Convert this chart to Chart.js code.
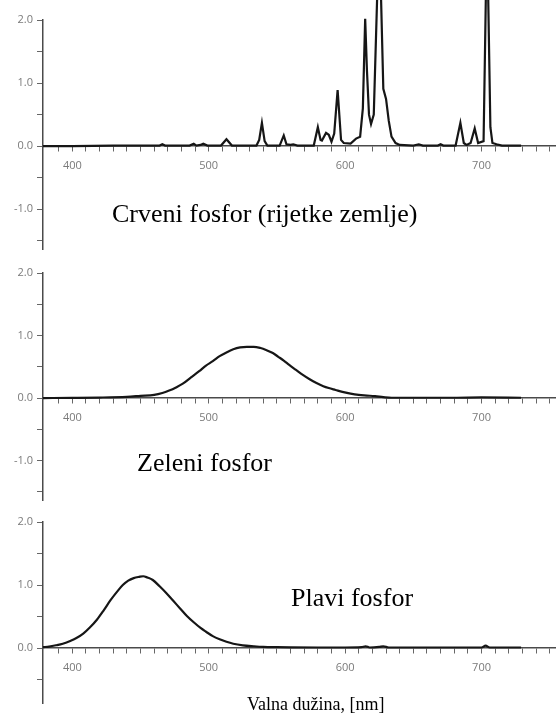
<!DOCTYPE html>
<html>
<head>
<meta charset="utf-8">
<script src="https://cdn.jsdelivr.net/npm/chart.js@4"></script>
<style>
  html, body { margin:0; padding:0; background:#fff; }
  #wrap { position:relative; width:556px; height:722px; overflow:hidden; }
  #wrap canvas { position:absolute; left:0; }
  .lbl { position:absolute; font-family:"Liberation Serif","Times New Roman",serif; font-size:26px; line-height:26px; color:#000; white-space:nowrap; }
</style>
</head>
<body>
<div id="wrap">
  <canvas id="cRed" style="top:0px;width:556px;height:252px" width="556" height="252"></canvas>
  <canvas id="cGreen" style="top:252px;width:556px;height:250px" width="556" height="250"></canvas>
  <canvas id="cBlue" style="top:502px;width:556px;height:220px" width="556" height="220"></canvas>
  <div class="lbl" style="left:112px;top:201px">Crveni fosfor (rijetke zemlje)</div>
  <div class="lbl" style="left:137px;top:450px">Zeleni fosfor</div>
  <div class="lbl" style="left:291px;top:585px">Plavi fosfor</div>
  <div class="lbl" style="left:247px;top:695px;font-size:18px;line-height:18px">Valna dužina, [nm]</div>
</div>
<script>
// osi
const X_MIN = 378.5, X_MAX = 754.6;
const X_MAJOR = [400, 500, 600, 700];
const X_TICKS = [390,400,410,420,430,440,450,460,470,480,490,500,510,520,530,540,550,560,570,
  580,590,600,610,620,630,640,650,660,670,680,690,700,710,720,730,740,750];
const Y_TICKS = [-1.5, -1.0, -0.5, 0.0, 0.5, 1.0, 1.5, 2.0];
const Y_LABELS = [-1.0, 0.0, 1.0, 2.0];

// crveni fosfor (rijetke zemlje)
const RED_NM  = [378.5, 400, 430, 460, 464, 466, 468, 486, 489, 491, 494, 496, 499, 509, 513, 517,
  535, 537, 539, 541, 543, 552, 555, 557, 560, 562, 565, 577, 580, 582, 583, 586, 588, 590, 592,
  594.5, 597, 599, 604, 608, 611, 613, 614.7, 616, 617.5, 619, 621, 625, 628, 630, 632, 634, 637,
  640, 650, 654, 657, 668, 670, 672, 681, 684.5, 687, 689, 692, 695, 697.5, 701.5, 704, 706.5, 708,
  711, 715, 729];
const RED_VAL = [0.0, 0.0, 0.01, 0.01, 0.01, 0.03, 0.01, 0.01, 0.04, 0.01, 0.02, 0.04, 0.01, 0.01, 0.11, 0.01,
  0.01, 0.1, 0.37, 0.08, 0.01, 0.01, 0.17, 0.03, 0.02, 0.03, 0.01, 0.01, 0.3, 0.1, 0.09, 0.21, 0.18, 0.07, 0.2,
  0.89, 0.1, 0.05, 0.04, 0.12, 0.15, 0.6, 2.02, 1.2, 0.5, 0.35, 0.5, 3.5, 0.91, 0.75, 0.4, 0.15, 0.05,
  0.02, 0.01, 0.03, 0.01, 0.01, 0.03, 0.01, 0.01, 0.37, 0.05, 0.02, 0.05, 0.28, 0.05, 0.08, 3.5, 0.3, 0.05,
  0.03, 0.01, 0.01];

// zeleni fosfor
const GREEN_NM  = [378.5, 400, 420, 440, 450, 460, 466, 471, 476, 481, 487, 493, 498, 503, 508, 513, 518,
  523, 528, 533, 538, 542, 547, 551, 555, 559, 564, 569, 574, 579, 584, 588, 593, 598, 604, 610, 616,
  622, 628, 634, 650, 680, 700, 729];
const GREEN_VAL = [0.0, 0.003, 0.008, 0.02, 0.035, 0.05, 0.08, 0.12, 0.17, 0.23, 0.33, 0.43, 0.52, 0.59,
  0.67, 0.73, 0.78, 0.81, 0.82, 0.82, 0.8, 0.77, 0.72, 0.66, 0.6, 0.53, 0.45, 0.37, 0.3, 0.24, 0.19, 0.16,
  0.13, 0.1, 0.07, 0.05, 0.04, 0.03, 0.015, 0.005, 0.005, 0.005, 0.01, 0.005];

// plavi fosfor
const BLUE_NM  = [378.5, 383, 388, 393, 398, 403, 408, 413, 418, 423, 428, 433, 437, 441, 445, 449, 452,
  455, 459, 464, 469, 474, 479, 484, 489, 494, 498, 503, 508, 513, 518, 525, 533, 540, 550, 560, 580,
  600, 612, 615, 618, 625, 628, 632, 650, 680, 700, 703, 706, 729];
const BLUE_VAL = [0.015, 0.025, 0.045, 0.07, 0.11, 0.16, 0.23, 0.33, 0.45, 0.6, 0.76, 0.9, 1.0, 1.07,
  1.11, 1.13, 1.14, 1.12, 1.08, 0.98, 0.87, 0.75, 0.63, 0.51, 0.41, 0.32, 0.26, 0.19, 0.14, 0.1, 0.07,
  0.045, 0.03, 0.02, 0.015, 0.012, 0.01, 0.01, 0.015, 0.03, 0.01, 0.02, 0.03, 0.01, 0.01, 0.01, 0.01,
  0.04, 0.01, 0.01];

const tickFont = { family:'"Open Sans", "DejaVu Sans", sans-serif', size:11 };
const tickColor = '#7a7a7a';
const axisColor = '#4a4a4a';

function makePanel(id, nm, val, yMin, pad, smooth) {
  new Chart(document.getElementById(id), {
    type: 'line',
    data: {
      datasets: [{
        data: nm.map((x, i) => ({ x, y: val[i] })),
        borderColor:'#161616', borderWidth:2.2, pointRadius:0, fill:false,
        tension: smooth ? 0.4 : 0, cubicInterpolationMode: smooth ? 'monotone' : 'default',
        clip: false
      }]
    },
    options: {
      responsive:false, animation:false,
      layout: { padding: { top: pad[0], bottom: pad[1], left:0, right:0 } },
      plugins: { legend:{display:false}, tooltip:{enabled:false} },
      scales: {
        x: {
          type:'linear', min:X_MIN, max:X_MAX, position:{ y:0 },
          afterBuildTicks: s => { s.ticks = X_TICKS.map(v => ({ value:v })); },
          afterFit: s => { s.paddingLeft = 0; s.paddingRight = 0; },
          ticks: { autoSkip:false, maxRotation:0, font:tickFont, color:tickColor, padding:8,
            callback: v => X_MAJOR.includes(v) ? String(v) : '' },
          grid: { drawOnChartArea:false, tickLength:5, color:'#666', lineWidth:1 },
          border: { color:axisColor, width:1.5 }
        },
        y: {
          type:'linear', min:yMin, max:2.0,
          afterBuildTicks: s => { s.ticks = Y_TICKS.filter(v => v >= yMin).map(v => ({ value:v })); },
          afterFit: s => { s.width = 43; s.paddingTop = 0; s.paddingBottom = 0; },
          ticks: { autoSkip:false, font:tickFont, color:tickColor, padding:4,
            callback: v => Y_LABELS.includes(v) ? v.toFixed(1) : '' },
          grid: { drawOnChartArea:false, tickLength:6, color:'#666', lineWidth:1 },
          border: { color:axisColor, width:1.5 }
        }
      }
    }
  });
}

makePanel('cRed', RED_NM, RED_VAL, -1.63, [20, 3], false);
makePanel('cGreen', GREEN_NM, GREEN_VAL, -1.63, [21, 2], true);
makePanel('cBlue', BLUE_NM, BLUE_VAL, -0.87, [20, 19], true);
</script>
</body>
</html>
